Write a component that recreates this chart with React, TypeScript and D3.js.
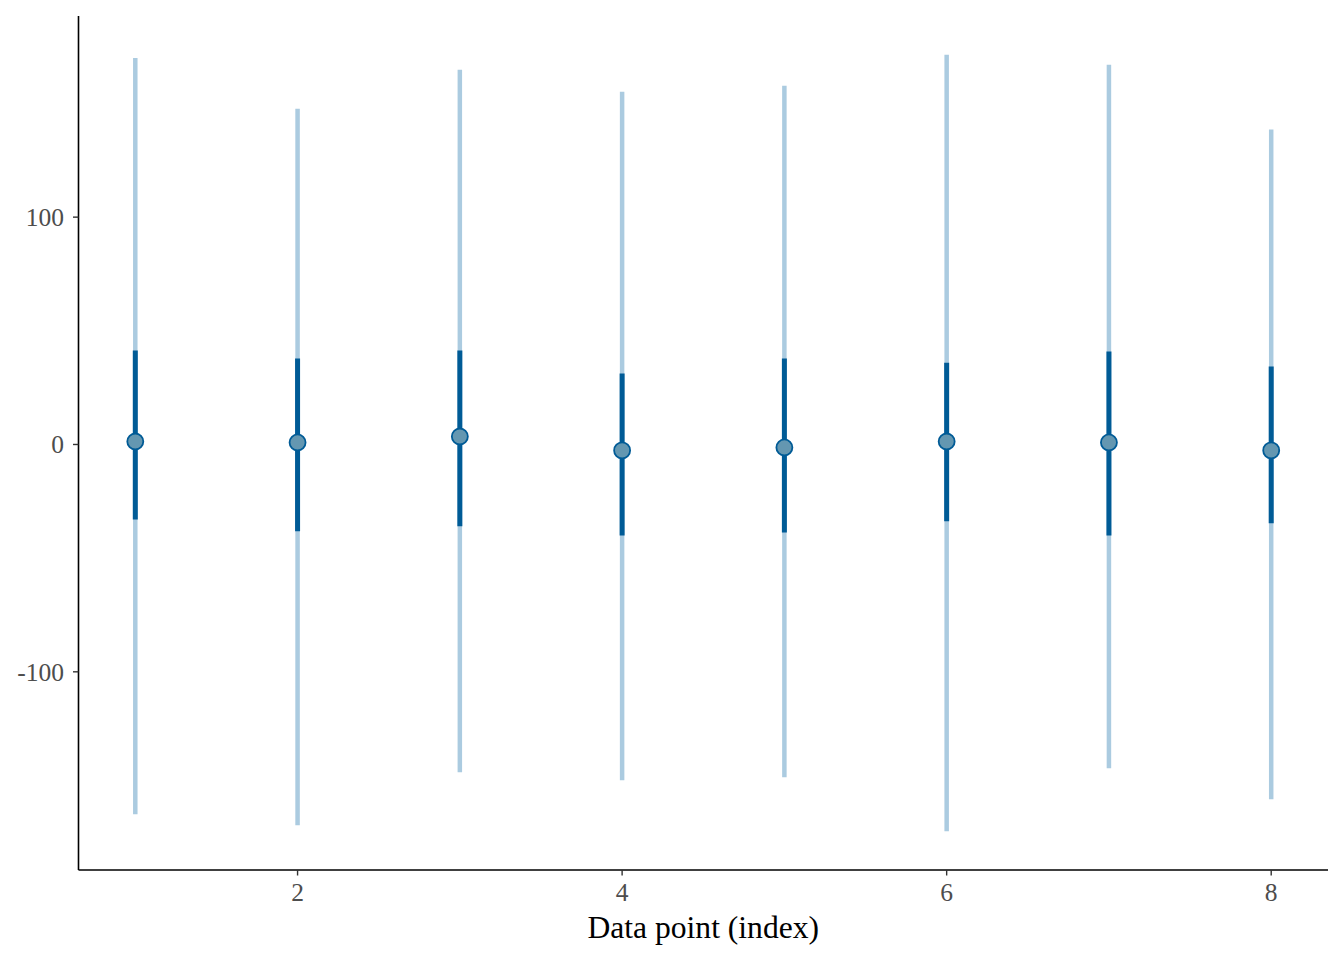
import React from "react";
import * as d3 from "d3";

const indices = [1, 2, 3, 4, 5, 6, 7, 8];
const means = [1.3, 0.9, 3.5, -2.6, -1.3, 1.3, 0.9, -2.6];
const innerLow = [-33, -38.2, -36, -40, -38.7, -33.8, -40, -34.7];
const innerHigh = [41.3, 37.8, 41.3, 31.2, 37.8, 36, 40.9, 34.3];
const outerLow = [-162.6, -167.5, -144.2, -147.7, -146.4, -170.1, -142.4, -156];
const outerHigh = [170, 147.7, 164.8, 155.2, 157.8, 171.4, 167, 138.5];
const xTicks = [2, 4, 6, 8];
const yTicks = [-100, 0, 100];

const W = 1344;
const H = 960;
const left = 78.5;
const right = 1328;
const top = 16;
const bottom = 870;

export default function App() {
  const x = d3.scaleLinear().domain([0.65, 8.35]).range([left, right]);
  const lo = d3.min(outerLow)!;
  const hi = d3.max(outerHigh)!;
  const pad = (hi - lo) * 0.05;
  const y = d3.scaleLinear().domain([lo - pad, hi + pad]).range([bottom, top]);
  const font = "'Liberation Serif', 'Times New Roman', serif";
  return (
    <svg width={W} height={H} style={{ position: "absolute", left: 0, top: 0 }}>
      <rect width={W} height={H} fill="#fff" />
      {indices.map((d, i) => (
        <g key={d}>
          <line x1={x(d)} x2={x(d)} y1={y(outerLow[i])} y2={y(outerHigh[i])} stroke="#abcbe0" strokeWidth={4.5} />
          <line x1={x(d)} x2={x(d)} y1={y(innerLow[i])} y2={y(innerHigh[i])} stroke="#005b96" strokeWidth={5} />
          <circle cx={x(d)} cy={y(means[i])} r={8} fill="#6497b1" stroke="#005b96" strokeWidth={1.8} />
        </g>
      ))}
      <line x1={left} x2={left} y1={top} y2={bottom} stroke="#000" strokeWidth={1.6} />
      <line x1={left} x2={right} y1={bottom} y2={bottom} stroke="#000" strokeWidth={1.6} />
      {yTicks.map((t) => (
        <g key={t}>
          <line x1={left - 5.5} x2={left} y1={y(t)} y2={y(t)} stroke="#333" strokeWidth={1.4} />
          <text x={left - 14.5} y={y(t)} dy="0.35em" textAnchor="end" fontFamily={font} fontSize={25.5} fill="#4d4d4d">
            {t}
          </text>
        </g>
      ))}
      {xTicks.map((t) => (
        <g key={t}>
          <line x1={x(t)} x2={x(t)} y1={bottom} y2={bottom + 5.5} stroke="#333" strokeWidth={1.4} />
          <text x={x(t)} y={bottom + 31} textAnchor="middle" fontFamily={font} fontSize={25.5} fill="#4d4d4d">
            {t}
          </text>
        </g>
      ))}
      <text x={(left + right) / 2} y={938} textAnchor="middle" fontFamily={font} fontSize={31.6} fill="#000">
        Data point (index)
      </text>
    </svg>
  );
}
